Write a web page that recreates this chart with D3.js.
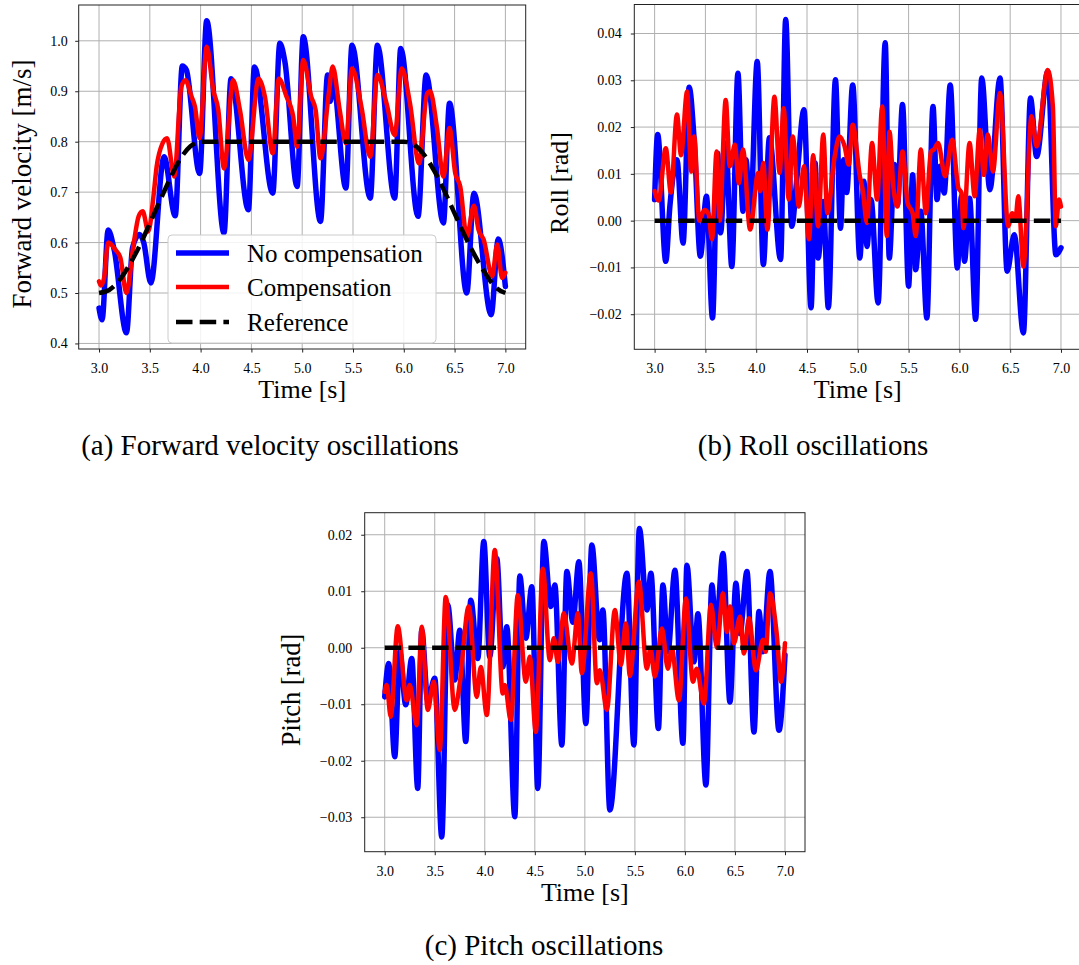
<!DOCTYPE html>
<html>
<head>
<meta charset="utf-8">
<script src="https://cdn.jsdelivr.net/npm/d3@7"></script>
<style>
  html, body { margin: 0; padding: 0; background: #fff; }
  svg { display: block; }
  text { font-family: "Liberation Serif", "Times New Roman", serif; fill: #000; }
</style>
</head>
<body>
<svg id="chart" width="1079" height="965"></svg>
<script>
// ---------------- DATA ----------------
const xTicks = [3.0, 3.5, 4.0, 4.5, 5.0, 5.5, 6.0, 6.5, 7.0];
const velTicks = [0.4, 0.5, 0.6, 0.7, 0.8, 0.9, 1.0];
const rollTicks = [-0.02, -0.01, 0.00, 0.01, 0.02, 0.03, 0.04];
const pitchTicks = [-0.03, -0.02, -0.01, 0.00, 0.01, 0.02];
const seriesNames = ["No compensation", "Compensation", "Reference"];
const captions = ["(a) Forward velocity oscillations", "(b) Roll oscillations", "(c) Pitch oscillations"];

// (a) Forward velocity [m/s]
const velNoComp = [[3.00,0.470],[3.03,0.447],[3.09,0.625],[3.15,0.585],[3.27,0.421],[3.33,0.590],[3.40,0.616],[3.44,0.600],[3.51,0.520],[3.64,0.770],[3.75,0.653],[3.82,0.950],[3.86,0.942],[3.99,0.737],[4.06,1.040],[4.23,0.619],[4.30,0.925],[4.47,0.665],[4.53,0.948],[4.71,0.698],[4.78,0.995],[4.83,0.958],[4.95,0.711],[5.01,1.008],[5.18,0.642],[5.25,0.932],[5.277,0.880],[5.30,0.925],[5.43,0.708],[5.49,0.991],[5.67,0.688],[5.74,0.991],[5.91,0.688],[5.97,0.985],[6.14,0.652],[6.22,0.932],[6.39,0.639],[6.45,0.876],[6.62,0.500],[6.69,0.698],[6.86,0.457],[6.93,0.607],[7.00,0.513]];
const velComp = [[3.00,0.523],[3.02,0.515],[3.05,0.530],[3.09,0.600],[3.16,0.586],[3.21,0.570],[3.27,0.500],[3.34,0.596],[3.39,0.652],[3.43,0.662],[3.485,0.622],[3.535,0.690],[3.567,0.750],[3.626,0.797],[3.67,0.807],[3.74,0.731],[3.81,0.909],[3.85,0.922],[3.91,0.890],[3.944,0.870],[3.99,0.807],[4.06,0.988],[4.125,0.902],[4.174,0.863],[4.23,0.747],[4.32,0.922],[4.387,0.863],[4.47,0.764],[4.57,0.925],[4.633,0.889],[4.71,0.777],[4.77,0.925],[4.846,0.889],[4.911,0.850],[4.95,0.790],[5.01,0.962],[5.089,0.889],[5.132,0.863],[5.18,0.767],[5.264,0.900],[5.30,0.949],[5.369,0.863],[5.43,0.797],[5.49,0.945],[5.583,0.869],[5.67,0.770],[5.74,0.932],[5.83,0.876],[5.91,0.813],[5.98,0.945],[6.061,0.876],[6.15,0.757],[6.23,0.896],[6.259,0.900],[6.325,0.830],[6.39,0.731],[6.45,0.827],[6.506,0.738],[6.556,0.711],[6.62,0.612],[6.69,0.673],[6.736,0.625],[6.786,0.606],[6.87,0.533],[6.92,0.596],[6.967,0.530],[7.00,0.540]];
const velRef = [[3.0,0.500],[3.1,0.506],[3.2,0.525],[3.3,0.556],[3.4,0.594],[3.5,0.638],[3.6,0.683],[3.7,0.727],[3.8,0.766],[3.9,0.791],[4.0,0.800],[6.0,0.800],[6.1,0.794],[6.2,0.774],[6.3,0.742],[6.4,0.702],[6.5,0.658],[6.6,0.614],[6.7,0.574],[6.8,0.540],[6.9,0.512],[7.0,0.500]];

// (b) Roll [rad]
const rollNoComp = [[3.00,0.0045],[3.03,0.0184],[3.11,-0.0087],[3.15,0.0030],[3.22,0.0130],[3.28,-0.0048],[3.34,0.0285],[3.39,0.0170],[3.45,-0.0076],[3.51,0.0052],[3.57,-0.0208],[3.62,0.0144],[3.65,-0.0026],[3.70,0.0166],[3.76,-0.0098],[3.82,0.0315],[3.87,0.0020],[3.90,0.0130],[3.94,0.0000],[4.01,0.0340],[4.07,-0.0094],[4.13,0.0177],[4.24,-0.0083],[4.29,0.0430],[4.35,-0.0012],[4.40,0.0090],[4.47,0.0237],[4.54,-0.0186],[4.58,0.0123],[4.61,-0.0080],[4.66,0.0041],[4.71,-0.0186],[4.78,0.0301],[4.83,-0.0016],[4.86,0.0130],[4.89,0.0060],[4.95,0.0290],[5.02,-0.0080],[5.06,0.0084],[5.09,-0.0055],[5.13,0.0045],[5.20,-0.0176],[5.27,0.0380],[5.31,-0.0080],[5.36,0.0120],[5.39,0.0034],[5.44,0.0248],[5.50,-0.0140],[5.54,0.0098],[5.57,-0.0105],[5.62,0.0020],[5.68,-0.0208],[5.74,0.0244],[5.78,0.0045],[5.81,0.0116],[5.85,0.0059],[5.91,0.0290],[5.98,-0.0101],[6.02,0.0052],[6.05,-0.0087],[6.10,0.0048],[6.16,-0.0211],[6.22,0.0305],[6.30,0.0066],[6.40,0.0305],[6.47,-0.0108],[6.54,-0.0030],[6.63,-0.0240],[6.70,0.0262],[6.76,0.0137],[6.87,0.0319],[6.95,-0.0073],[7.00,-0.0058]];
const rollComp = [[3.00,0.0063],[3.04,0.0043],[3.11,0.0155],[3.16,0.0060],[3.22,0.0227],[3.26,0.0140],[3.32,0.0276],[3.36,0.0105],[3.39,0.0180],[3.44,0.0000],[3.49,0.0023],[3.53,0.0015],[3.565,-0.0040],[3.61,0.0148],[3.64,0.0000],[3.70,0.0258],[3.74,0.0116],[3.79,0.0162],[3.83,0.0080],[3.87,0.0152],[3.94,-0.0019],[4.02,0.0102],[4.04,0.0063],[4.07,0.0123],[4.11,-0.0019],[4.18,0.0265],[4.23,0.0102],[4.27,0.0240],[4.32,0.0045],[4.36,0.0180],[4.42,0.0030],[4.47,0.0116],[4.52,-0.0040],[4.56,0.0140],[4.61,-0.0012],[4.66,0.0184],[4.70,0.0016],[4.77,0.0134],[4.82,0.0180],[4.87,0.0159],[4.91,0.0120],[4.95,0.0205],[5.02,0.0095],[5.05,0.0063],[5.09,-0.0005],[5.14,0.0166],[5.19,0.0045],[5.24,0.0244],[5.286,-0.0033],[5.312,0.0190],[5.35,0.0073],[5.39,0.0030],[5.44,0.0148],[5.49,0.0038],[5.54,0.0016],[5.57,-0.0033],[5.62,0.0152],[5.67,0.0016],[5.72,0.0148],[5.75,0.0152],[5.79,0.0166],[5.86,0.0095],[5.93,0.0173],[5.99,0.0070],[6.02,0.0060],[6.04,-0.0016],[6.10,0.0166],[6.15,0.0052],[6.20,0.0194],[6.24,0.0098],[6.28,0.0184],[6.33,0.0105],[6.40,0.0273],[6.48,-0.0012],[6.52,0.0016],[6.55,0.0000],[6.58,0.0052],[6.63,-0.0098],[6.71,0.0223],[6.76,0.0159],[6.87,0.0322],[6.92,0.0244],[6.95,-0.0012],[6.98,0.0045],[7.00,0.0030]];
const rollRef = [[3.0,0.0],[7.0,0.0]];

// (c) Pitch [rad]
const pitchNoComp = [[3.00,-0.0087],[3.04,-0.0028],[3.10,-0.0193],[3.15,-0.0007],[3.21,-0.0101],[3.27,-0.0019],[3.33,-0.0249],[3.37,0.0031],[3.43,-0.0093],[3.50,-0.0054],[3.57,-0.0335],[3.63,0.0076],[3.70,-0.0057],[3.75,0.0031],[3.81,-0.0166],[3.86,0.0084],[3.93,-0.0019],[3.99,0.0188],[4.05,-0.0016],[4.12,0.0158],[4.18,-0.0034],[4.22,0.0037],[4.30,-0.0299],[4.35,0.0127],[4.41,0.0017],[4.47,0.0108],[4.53,-0.0249],[4.59,0.0188],[4.66,0.0073],[4.70,0.0111],[4.77,-0.0172],[4.82,0.0135],[4.88,0.0045],[4.94,0.0152],[5.01,-0.0134],[5.07,0.0182],[5.146,0.0014],[5.18,0.0067],[5.25,-0.0287],[5.42,0.0132],[5.49,-0.0172],[5.545,0.0211],[5.62,0.0067],[5.66,0.0132],[5.735,-0.0143],[5.78,0.0111],[5.83,-0.0007],[5.90,0.0137],[5.98,-0.0169],[6.02,0.0146],[6.09,-0.0025],[6.13,0.0060],[6.21,-0.0243],[6.27,0.0111],[6.31,0.0025],[6.38,0.0167],[6.45,-0.0096],[6.51,0.0114],[6.55,0.0025],[6.62,0.0135],[6.69,-0.0149],[6.74,0.0064],[6.78,-0.0007],[6.85,0.0135],[6.94,-0.0146],[7.00,-0.0013]];
const pitchComp = [[3.00,-0.0078],[3.02,-0.0066],[3.06,-0.0122],[3.13,0.0038],[3.22,-0.0093],[3.25,-0.0066],[3.32,-0.0137],[3.37,0.0037],[3.43,-0.0110],[3.49,-0.0060],[3.55,-0.0181],[3.61,0.0090],[3.70,-0.0110],[3.75,-0.0063],[3.84,0.0073],[3.92,-0.0087],[3.96,-0.0034],[4.02,-0.0119],[4.10,0.0173],[4.18,-0.0081],[4.20,-0.0066],[4.26,-0.0128],[4.33,0.0093],[4.41,-0.0060],[4.45,-0.0016],[4.51,-0.0149],[4.58,0.0140],[4.65,-0.0022],[4.69,0.0017],[4.73,-0.0025],[4.79,0.0061],[4.87,-0.0028],[4.93,0.0061],[4.97,-0.0045],[5.06,0.0132],[5.12,-0.0063],[5.15,-0.0040],[5.22,-0.0110],[5.30,0.0067],[5.36,-0.0030],[5.41,0.0043],[5.45,-0.0050],[5.54,0.0117],[5.62,-0.0037],[5.655,-0.0001],[5.70,-0.0051],[5.77,0.0034],[5.83,-0.0037],[5.869,-0.0001],[5.94,-0.0093],[6.01,0.0087],[6.08,-0.0060],[6.118,-0.0037],[6.19,-0.0099],[6.26,0.0076],[6.32,0.0000],[6.38,0.0096],[6.42,0.0028],[6.451,0.0073],[6.49,0.0008],[6.551,0.0055],[6.59,-0.0010],[6.64,0.0052],[6.71,-0.0040],[6.78,0.0014],[6.807,-0.0007],[6.85,0.0096],[6.917,0.0025],[6.96,-0.0060],[7.00,0.0008]];
const pitchRef = [[3.0,0.0],[7.0,0.0]];

// ---------------- DRAW ----------------
const svg = d3.select("#chart");
svg.append("rect").attr("width", 1079).attr("height", 965).attr("fill", "#fff");

const styles = [
  { color: "#0000ff", width: 5.5, dash: null },
  { color: "#ff0000", width: 4.5, dash: null },
  { color: "#000000", width: 4.5, dash: "16.5,7.2" }
];

function panel(cfg) {
  const x = d3.scaleLinear().domain([2.8, 7.2]).range([cfg.left, cfg.right]);
  const y = d3.scaleLinear().domain(cfg.yDomain).range([cfg.bottom, cfg.top]);
  const g = svg.append("g");
  const clipId = "clip" + cfg.id;
  svg.append("clipPath").attr("id", clipId).append("rect")
    .attr("x", cfg.left).attr("y", cfg.top)
    .attr("width", cfg.right - cfg.left).attr("height", cfg.bottom - cfg.top);

  // grid
  g.append("g").selectAll("line").data(xTicks).join("line")
    .attr("x1", d => x(d)).attr("x2", d => x(d))
    .attr("y1", cfg.top).attr("y2", cfg.bottom)
    .attr("stroke", "#b0b0b0").attr("stroke-width", 1);
  g.append("g").selectAll("line").data(cfg.yTicks).join("line")
    .attr("x1", cfg.left).attr("x2", cfg.right)
    .attr("y1", d => y(d)).attr("y2", d => y(d))
    .attr("stroke", "#b0b0b0").attr("stroke-width", 1);

  // series
  const line = d3.line().x(d => x(d[0])).y(d => y(d[1])).curve(d3.curveMonotoneX);
  const lg = g.append("g").attr("clip-path", `url(#${clipId})`);
  cfg.series.forEach((s, i) => {
    const st = styles[i];
    lg.append("path").datum(s).attr("d", line)
      .attr("fill", "none").attr("stroke", st.color)
      .attr("stroke-width", st.width)
      .attr("stroke-linejoin", "round")
      .attr("stroke-linecap", st.dash ? "butt" : "round")
      .attr("stroke-dasharray", st.dash);
  });

  // spines
  g.append("rect").attr("x", cfg.left).attr("y", cfg.top)
    .attr("width", cfg.right - cfg.left).attr("height", cfg.bottom - cfg.top)
    .attr("fill", "none").attr("stroke", "#222").attr("stroke-width", 1);

  // axes
  const ax = g.append("g").attr("transform", `translate(0,${cfg.bottom})`)
    .call(d3.axisBottom(x).tickValues(xTicks).tickFormat(d3.format(".1f"))
      .tickSize(3.5).tickPadding(10.5).tickSizeOuter(0));
  ax.select(".domain").remove();
  ax.selectAll("line").attr("stroke", "#222");
  ax.selectAll("text").attr("font-size", 14).attr("font-family", "Liberation Serif");

  const ay = g.append("g").attr("transform", `translate(${cfg.left},0)`)
    .call(d3.axisLeft(y).tickValues(cfg.yTicks).tickFormat(d3.format(cfg.yFmt))
      .tickSize(3.5).tickPadding(cfg.yPad).tickSizeOuter(0));
  ay.select(".domain").remove();
  ay.selectAll("line").attr("stroke", "#222");
  ay.selectAll("text").attr("font-size", 14).attr("font-family", "Liberation Serif");

  // labels
  g.append("text").attr("x", (cfg.left + cfg.right) / 2).attr("y", cfg.bottom + 49)
    .attr("text-anchor", "middle").attr("font-size", 26).text("Time [s]");
  g.append("text")
    .attr("transform", `translate(${cfg.ylabelX},${cfg.ylabelY}) rotate(-90)`)
    .attr("text-anchor", "middle").attr("font-size", cfg.ylabelSize).text(cfg.ylabel);

  // caption
  svg.append("text").attr("x", cfg.capX).attr("y", cfg.capY)
    .attr("text-anchor", "middle").attr("font-size", 29).text(cfg.caption);
  return { x, y };
}

panel({ id: "a", left: 78.7, right: 525.7, top: 5, bottom: 349, yDomain: [0.389, 1.071],
  yTicks: velTicks, yFmt: ".1f", yPad: 7.5, series: [velNoComp, velComp, velRef],
  ylabel: "Forward velocity [m/s]", ylabelX: 31, ylabelY: 184, ylabelSize: 27,
  caption: captions[0], capX: 270, capY: 455 });

panel({ id: "b", left: 634.3, right: 1081.3, top: 4.5, bottom: 349.3, yDomain: [-0.0275, 0.0462],
  yTicks: rollTicks, yFmt: ".2f", yPad: 9, series: [rollNoComp, rollComp, rollRef],
  ylabel: "Roll [rad]", ylabelX: 568, ylabelY: 183, ylabelSize: 26,
  caption: captions[1], capX: 813, capY: 455 });

panel({ id: "c", left: 364.7, right: 805, top: 512.7, bottom: 851.7, yDomain: [-0.0361, 0.0239],
  yTicks: pitchTicks, yFmt: ".2f", yPad: 9, series: [pitchNoComp, pitchComp, pitchRef],
  ylabel: "Pitch [rad]", ylabelX: 300, ylabelY: 690, ylabelSize: 26.5,
  caption: captions[2], capX: 544, capY: 955 });

// legend in panel (a)
const leg = svg.append("g");
leg.append("rect").attr("x", 168).attr("y", 235).attr("width", 268).attr("height", 108)
  .attr("rx", 4).attr("fill", "#fff").attr("fill-opacity", 0.85)
  .attr("stroke", "#cccccc").attr("stroke-width", 1);
const legY = [253, 287, 322];
seriesNames.forEach((n, i) => {
  const st = styles[i];
  leg.append("line").attr("x1", 176).attr("x2", 229).attr("y1", legY[i]).attr("y2", legY[i])
    .attr("stroke", st.color).attr("stroke-width", st.width)
    .attr("stroke-dasharray", st.dash);
  leg.append("text").attr("x", 247).attr("y", legY[i] + 8.5).attr("font-size", 25).text(n);
});
</script>
</body>
</html>
